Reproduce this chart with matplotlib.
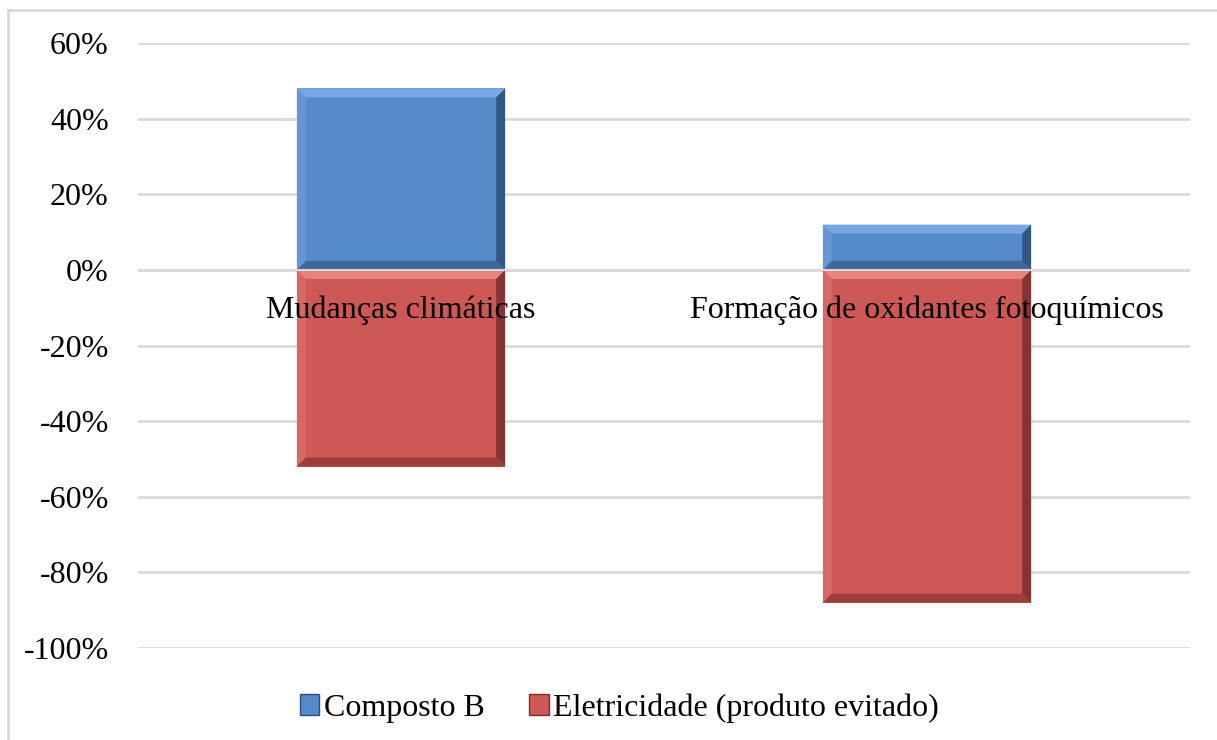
import matplotlib
matplotlib.use("Agg")
import matplotlib.pyplot as plt
from matplotlib.patches import Polygon, Rectangle, Patch
from matplotlib.ticker import FuncFormatter

plt.rcParams['font.family'] = ['Liberation Serif', 'DejaVu Serif']

categories = ['Mudanças climáticas', 'Formação de oxidantes fotoquímicos']
composto_b = [48, 12]
eletricidade = [-52, -88]
series_names = ['Composto B', 'Eletricidade (produto evitado)']
yticks = [-100, -80, -60, -40, -20, 0, 20, 40, 60]

blue = '#558acb'
red = '#cd5856'
shade = {
    blue: dict(top='#7eaee8', left='#6a9ad6', right='#2c4f7a', bottom='#3a6396'),
    red: dict(top='#f08a88', left='#d86c6a', right='#7a2e2d', bottom='#963a38'),
}

fig = plt.figure(figsize=(12.17, 7.40), dpi=100)
ax = fig.add_axes([138 / 1217, 1 - 648 / 740, 1052 / 1217, 605 / 740])
ax.set_xlim(-0.5, 1.5)
ax.set_ylim(-100, 60)

width = 0.396
# size of one pixel in data units, used for the bevel edges
px_x = 2.0 / 1052
px_y = 160.0 / 605
bev = 9


def bevel_bar(x, y0, y1, color):
    left, right = x - width / 2, x + width / 2
    lo, hi = min(y0, y1), max(y0, y1)
    ax.add_patch(Rectangle((left, lo), width, hi - lo, facecolor=color,
                           edgecolor='none', zorder=2))
    bx, by = bev * px_x, bev * px_y
    c = shade[color]
    pieces = {
        'top': [(left, hi), (right, hi), (right - bx, hi - by), (left + bx, hi - by)],
        'bottom': [(left, lo), (right, lo), (right - bx, lo + by), (left + bx, lo + by)],
        'left': [(left, lo), (left, hi), (left + bx, hi - by), (left + bx, lo + by)],
        'right': [(right, lo), (right, hi), (right - bx, hi - by), (right - bx, lo + by)],
    }
    for name in ('left', 'right', 'top', 'bottom'):
        ax.add_patch(Polygon(pieces[name], closed=True, facecolor=c[name],
                             edgecolor='none', alpha=0.85, zorder=3))


for i in range(len(categories)):
    bevel_bar(i, 0, composto_b[i], blue)
    bevel_bar(i, 0, eletricidade[i], red)

for t in yticks:
    ax.axhline(t, color='#d9d9d9', lw=2, zorder=1)
ax.axhline(0, color='#d9d9d9', lw=1.5, zorder=4)

ax.set_yticks(yticks)
ax.yaxis.set_major_formatter(FuncFormatter(lambda v, p: f'{v:.0f}%'))
ax.tick_params(axis='y', length=0, labelsize=23, pad=21)
ax.set_xticks([])
for s in ax.spines.values():
    s.set_visible(False)

for i, name in enumerate(categories):
    ax.text(i, -10.8, name, ha='center', va='center', fontsize=23, zorder=5)

handles = [Patch(facecolor=blue, edgecolor='#2c4f7a'),
           Patch(facecolor=red, edgecolor='#7a2e2d')]
fig.legend(handles, series_names, loc='center', bbox_to_anchor=(0.509, 1 - 708 / 740),
           ncol=2, frameon=False, fontsize=23, handlelength=0.6, handleheight=0.6,
           handletextpad=0.15, columnspacing=1.4)

fig.patches.append(Rectangle((8 / 1217, -0.01), 1.1, 1 - 10 / 740 + 0.01,
                             transform=fig.transFigure, fill=False,
                             edgecolor='#d9d9d9', lw=2))

fig.savefig('out.png', dpi=100)
